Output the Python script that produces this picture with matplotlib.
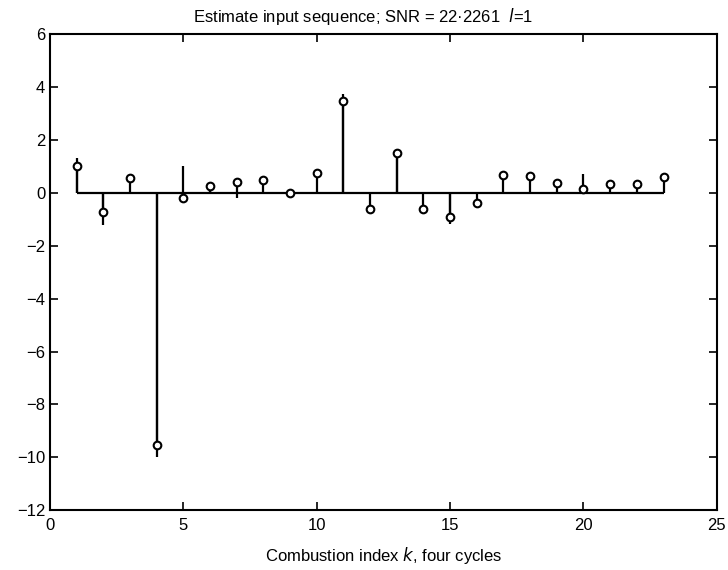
import numpy as np
import matplotlib
matplotlib.use('Agg')
import matplotlib.pyplot as plt

# combustion index k and the estimated input (circles)
k = np.arange(1, 24)
u_est = [1.0, -0.72, 0.58, -9.55, -0.19, 0.25, 0.42, 0.48, 0.0, 0.76,
         3.47, -0.62, 1.5, -0.6, -0.91, -0.4, 0.67, 0.65, 0.39, 0.14,
         0.32, 0.34, 0.6]
# true input sequence (plain lines)
u_true = [1.3, -1.2, 0.0, -10.0, 1.0, 0.35, -0.2, 0.0, 0.0, 0.0,
          3.72, 0.0, 1.4, 0.0, -1.16, 0.0, 0.0, 0.0, 0.0, 0.7,
          0.0, 0.0, 0.0]

plt.rcParams['font.family'] = ['Liberation Sans', 'DejaVu Sans']

fig = plt.figure(figsize=(7.28, 5.70), dpi=100)
ax = fig.add_axes([0.0687, 0.105, 0.916, 0.835])

ax.vlines(k, 0, u_true, colors='black', linewidth=1.6)
ax.vlines(k, 0, u_est, colors='black', linewidth=1.6)
ax.hlines(0, k[0], k[-1], colors='black', linewidth=1.6)
ax.plot(k, u_est, 'o', markersize=5.5, markerfacecolor='white',
        markeredgecolor='black', markeredgewidth=1.5, zorder=3)

ax.set_xlim(0, 25)
ax.set_ylim(-12, 6)
ax.set_xticks([0, 5, 10, 15, 20, 25])
ax.set_yticks(np.arange(-12, 7, 2))
ax.tick_params(direction='in', top=True, right=True, length=6, width=1.2,
               labelsize=12)
ax.tick_params(axis='x', pad=6)
for s in ax.spines.values():
    s.set_linewidth(1.5)

ax.set_title('Estimate input sequence; SNR = 22·2261  $l$=1', fontsize=12,
             x=0.47, pad=9)
ax.set_xlabel('Combustion index $k$, four cycles', fontsize=12, labelpad=8)

fig.savefig('out.png', dpi=100)
